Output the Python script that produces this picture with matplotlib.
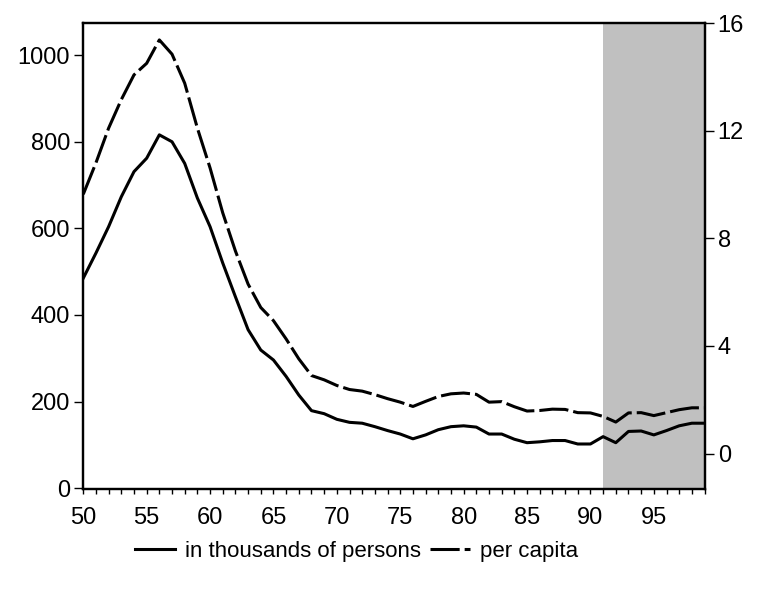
import matplotlib.pyplot as plt
from matplotlib.lines import Line2D

plt.rcParams['font.family'] = ['Liberation Sans', 'DejaVu Sans']
plt.rcParams['lines.scale_dashes'] = False

# years 1950..1999, shown as two-digit labels
years = list(range(50, 100))

# left axis: in thousands of persons
persons = [485, 543, 604, 673, 731, 762, 816, 800, 750, 670,
           604, 520, 442, 366, 319, 296, 258, 215, 179, 172,
           159, 152, 150, 142, 133, 125, 114, 123, 135, 142,
           144, 141, 125, 125, 113, 105, 107, 110, 110, 102,
           102, 119, 105, 131, 132, 123, 133, 144, 150, 150]

# right axis: per capita
per_capita = [9.64, 10.81, 12.1, 13.16, 14.08, 14.51, 15.38, 14.85, 13.77, 12.1,
              10.62, 8.95, 7.53, 6.30, 5.43, 4.94, 4.26, 3.52, 2.90, 2.74,
              2.53, 2.38, 2.32, 2.19, 2.04, 1.91, 1.75, 1.94, 2.12, 2.22,
              2.25, 2.20, 1.91, 1.93, 1.74, 1.58, 1.60, 1.65, 1.64, 1.52,
              1.51, 1.38, 1.17, 1.51, 1.52, 1.41, 1.52, 1.63, 1.70, 1.70]

shade_start, shade_end = 91, 99
labels = ["in thousands of persons", "per capita"]

fig = plt.figure(figsize=(7.57, 5.99), dpi=100)
ax = fig.add_axes([0.110, 0.1836, 0.8207, 0.7785])
ax2 = ax.twinx()

ax.axvspan(shade_start, shade_end, color='#c0c0c0', lw=0, zorder=0)

dash = (0, (21, 3.6))
ax.plot(years, persons, color='black', lw=2.2)
ax2.plot(years, per_capita, color='black', lw=2.2, linestyle=dash)

ax.set_xlim(50, 99)
ax.set_ylim(-2, 1075)
ax2.set_ylim(-1.32, 16.02)

ax.set_xticks(range(50, 100))
ax.set_xticklabels([str(y) if y % 5 == 0 else '' for y in range(50, 100)])
ax.set_yticks([0, 200, 400, 600, 800, 1000])
ax2.set_yticks([0, 4, 8, 12, 16])

for a in (ax, ax2):
    a.tick_params(direction='out', length=6.5, width=1, labelsize=17, pad=3)
    for s in a.spines.values():
        s.set_linewidth(1.6)
ax.tick_params(axis='x', length=3.6, pad=9)

fig.legend(handles=[Line2D([], [], color='black', lw=2.2),
                    Line2D([], [], color='black', lw=2.2, linestyle=dash)],
           labels=labels, loc='center', bbox_to_anchor=(0.471, 0.079), ncol=2,
           frameon=False, fontsize=16, handlelength=1.8, handletextpad=0.45,
           columnspacing=0.4)

fig.savefig('out.png', dpi=100)
